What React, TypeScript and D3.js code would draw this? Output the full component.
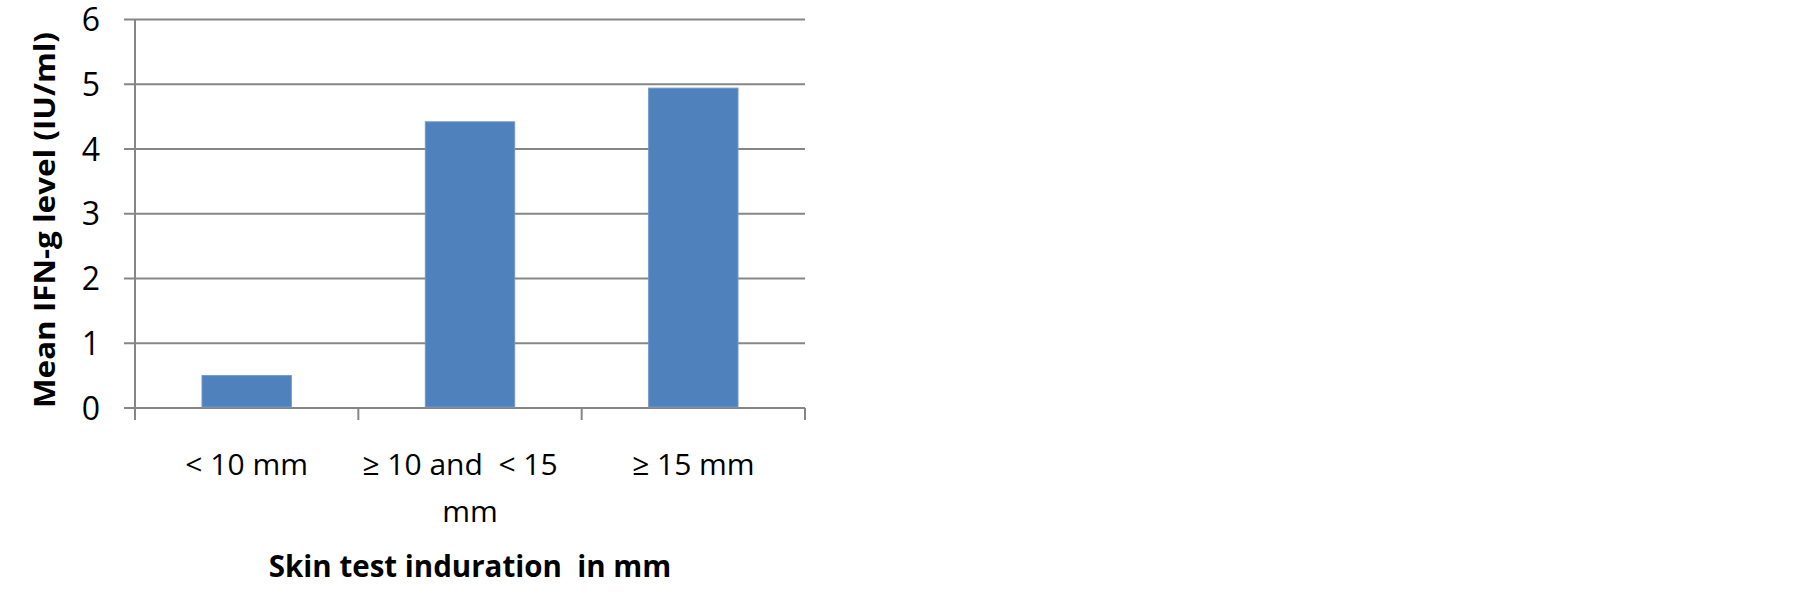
import React, { useEffect, useRef } from 'react';
import * as d3 from 'd3';

const categories = ['< 10 mm', '≥ 10 and < 15 mm', '≥ 15 mm'];
const categoryLines = [['< 10 mm'], ['≥ 10 and  < 15', 'mm'], ['≥ 15 mm']];
const meanIfn = [0.5, 4.42, 4.94];
const yTicks = [0, 1, 2, 3, 4, 5, 6];

const W = 1805, H = 594;
const margin = { top: 19.5, right: 1000, bottom: 186, left: 135 };
const gray = '#868686';
const blue = '#4f81bd';
const font = "'Open Sans', 'Noto Sans', sans-serif";

export default function App() {
  const ref = useRef<SVGSVGElement>(null);

  useEffect(() => {
    const svg = d3.select(ref.current);
    svg.selectAll('*').remove();

    const x = d3.scaleBand<string>()
      .domain(categories)
      .range([margin.left, W - margin.right])
      .padding(0);
    const y = d3.scaleLinear()
      .domain([0, 6])
      .range([H - margin.bottom, margin.top]);

    // gridlines + y tick labels
    const grid = svg.append('g');
    grid.selectAll('line')
      .data(yTicks)
      .join('line')
      .attr('x1', margin.left - 11)
      .attr('x2', W - margin.right)
      .attr('y1', d => y(d))
      .attr('y2', d => y(d))
      .attr('stroke', gray)
      .attr('stroke-width', 2);

    grid.selectAll('text')
      .data(yTicks)
      .join('text')
      .attr('x', 100)
      .attr('y', d => y(d))
      .attr('dy', '0.36em')
      .attr('text-anchor', 'end')
      .attr('font-family', font)
      .attr('font-size', 32)
      .attr('fill', '#000')
      .text(d => d);

    // y axis line
    svg.append('line')
      .attr('x1', margin.left).attr('x2', margin.left)
      .attr('y1', y(6)).attr('y2', y(0) + 12)
      .attr('stroke', gray).attr('stroke-width', 2);

    // bottom ticks between categories
    const bounds = categories.map(c => x(c) as number).concat([x.range()[1]]);
    svg.append('g').selectAll('line')
      .data(bounds.slice(1))
      .join('line')
      .attr('x1', d => d).attr('x2', d => d)
      .attr('y1', y(0)).attr('y2', y(0) + 12)
      .attr('stroke', gray).attr('stroke-width', 2);

    // bars
    const bw = x.bandwidth() * 0.4;
    svg.append('g').selectAll('rect')
      .data(meanIfn)
      .join('rect')
      .attr('x', (d, i) => (x(categories[i]) as number) + x.bandwidth() / 2 - bw / 2)
      .attr('y', d => y(d))
      .attr('width', bw)
      .attr('height', d => y(0) - y(d) - 1)
      .attr('fill', blue)
      .attr('stroke', '#7096c9')
      .attr('stroke-width', 1);

    // category labels
    const lab = svg.append('g')
      .attr('font-family', font)
      .attr('font-size', 30)
      .attr('text-anchor', 'middle')
      .attr('fill', '#000');
    categoryLines.forEach((lines, i) => {
      const cx = (x(categories[i]) as number) + x.bandwidth() / 2;
      lines.forEach((ln, j) => {
        lab.append('text')
          .attr('x', cx - (lines.length > 1 && j === 0 ? 10 : 0))
          .attr('y', 475 + j * 47)
          .style('white-space', 'pre')
          .text(ln);
      });
    });

    // axis titles
    svg.append('text')
      .attr('x', (margin.left + W - margin.right) / 2)
      .attr('y', 577)
      .attr('text-anchor', 'middle')
      .attr('font-family', font)
      .attr('font-weight', 'bold')
      .attr('font-size', 29.5)
      .style('white-space', 'pre')
      .text('Skin test induration  in mm');

    svg.append('text')
      .attr('transform', `translate(55,220) rotate(-90)`)
      .attr('text-anchor', 'middle')
      .attr('font-family', font)
      .attr('font-weight', 'bold')
      .attr('font-size', 28)
      .attr('textLength', 376)
      .attr('lengthAdjust', 'spacingAndGlyphs')
      .text('Mean IFN-g level (IU/ml)');
  }, []);

  return (
    <div style={{ position: 'absolute', left: 0, top: 0, background: '#fff' }}>
      <svg ref={ref} width={W} height={H} style={{ display: 'block' }} />
    </div>
  );
}
